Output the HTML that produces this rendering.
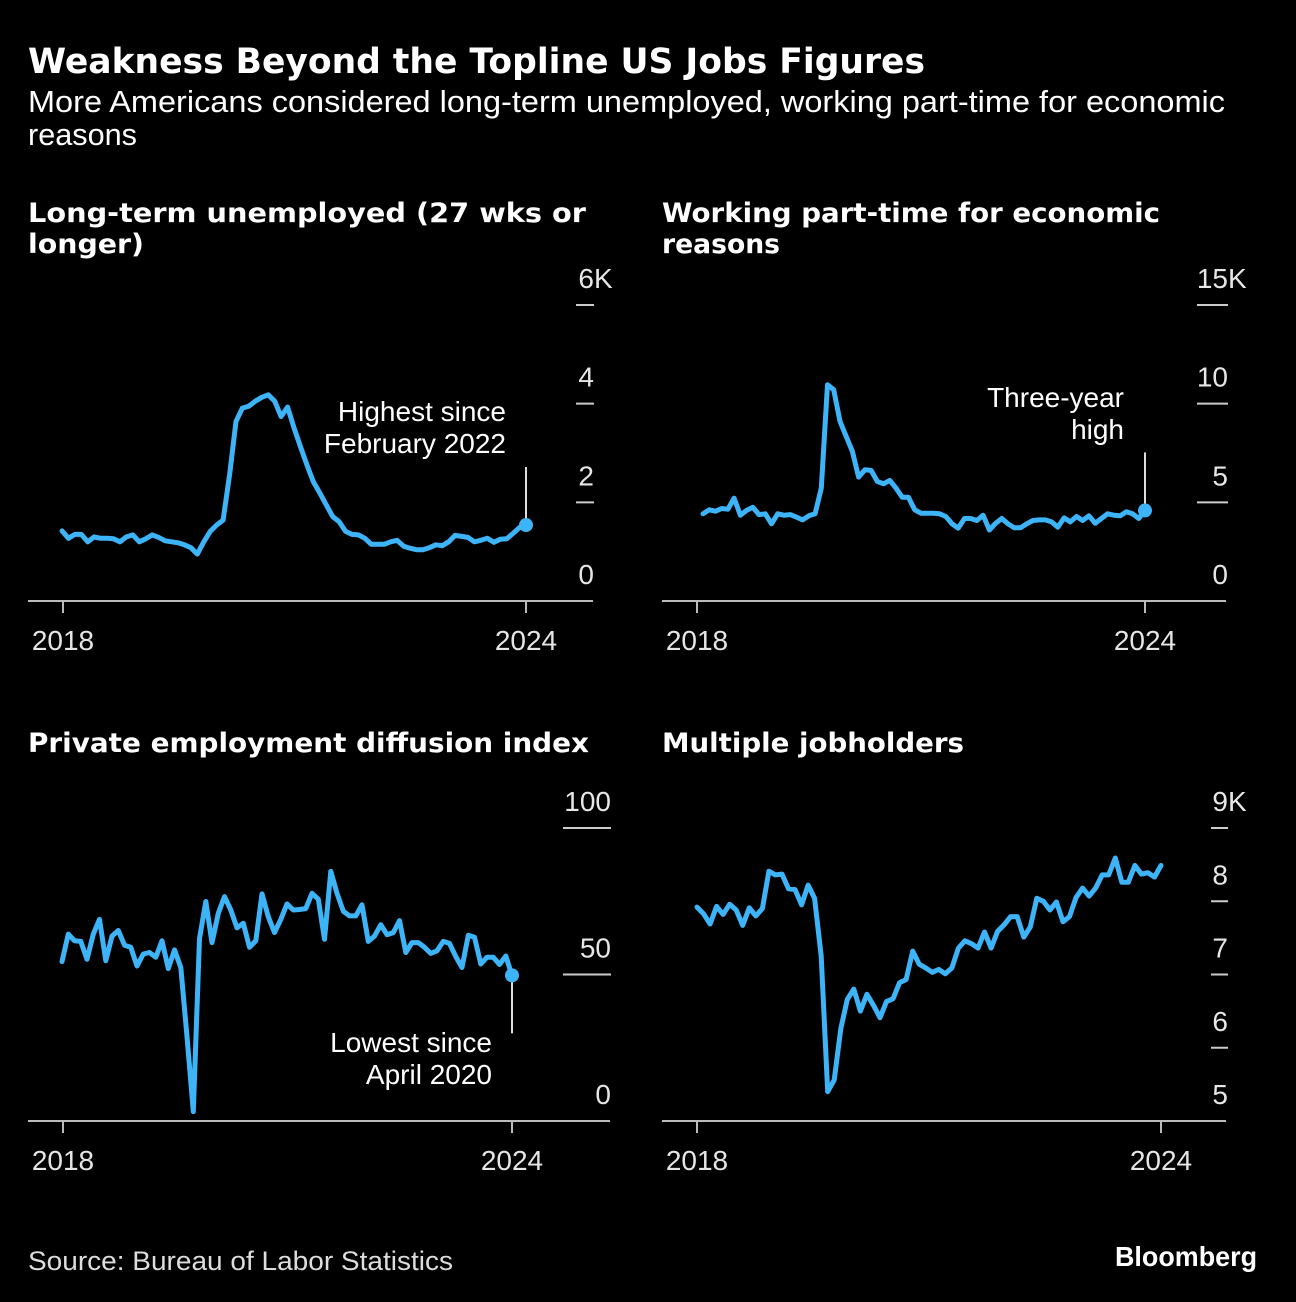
<!DOCTYPE html>
<html><head><meta charset="utf-8"><style>
html,body{margin:0;padding:0;background:#000;}
svg{display:block;font-family:"Liberation Sans","DejaVu Sans",sans-serif;}
.t{fill:#fff}
.tick{fill:#e6e6e6;font-size:28px}
</style></head><body>
<svg id="c" width="1296" height="1302" viewBox="0 0 1296 1302">
<rect width="1296" height="1302" fill="#000"/>
<text class="t" x="28" y="73" font-size="35" font-weight="bold" font-family="DejaVu Sans, sans-serif" textLength="897" lengthAdjust="spacingAndGlyphs">Weakness Beyond the Topline US Jobs Figures</text>
<text class="t" x="28" y="112" font-size="31" textLength="1197" lengthAdjust="spacingAndGlyphs">More Americans considered long-term unemployed, working part-time for economic</text>
<text class="t" x="28" y="145" font-size="31" textLength="109" lengthAdjust="spacingAndGlyphs">reasons</text>
<text class="t" x="28" y="222" font-size="27" font-weight="bold" font-family="DejaVu Sans, sans-serif" textLength="558" lengthAdjust="spacingAndGlyphs">Long-term unemployed (27 wks or</text>
<text class="t" x="28" y="253" font-size="27" font-weight="bold" font-family="DejaVu Sans, sans-serif" textLength="116" lengthAdjust="spacingAndGlyphs">longer)</text>
<text class="t" x="662" y="222" font-size="27" font-weight="bold" font-family="DejaVu Sans, sans-serif" textLength="498" lengthAdjust="spacingAndGlyphs">Working part-time for economic</text>
<text class="t" x="662" y="253" font-size="27" font-weight="bold" font-family="DejaVu Sans, sans-serif" textLength="118" lengthAdjust="spacingAndGlyphs">reasons</text>
<text class="t" x="28" y="752" font-size="27" font-weight="bold" font-family="DejaVu Sans, sans-serif" textLength="561" lengthAdjust="spacingAndGlyphs">Private employment diffusion index</text>
<text class="t" x="662" y="752" font-size="27" font-weight="bold" font-family="DejaVu Sans, sans-serif" textLength="302" lengthAdjust="spacingAndGlyphs">Multiple jobholders</text>
<text x="28" y="1270" font-size="27" fill="#ddd" textLength="425" lengthAdjust="spacingAndGlyphs">Source: Bureau of Labor Statistics</text>
<text class="t" x="1115" y="1266" font-size="28" font-weight="bold" textLength="142" lengthAdjust="spacingAndGlyphs">Bloomberg</text>
<g id="plots"></g>
</svg>
<script>
const p1Values=[1.42,1.27,1.35,1.35,1.20,1.30,1.27,1.27,1.26,1.20,1.30,1.34,1.20,1.26,1.34,1.29,1.22,1.20,1.18,1.14,1.08,0.95,1.20,1.41,1.54,1.64,2.56,3.64,3.91,3.95,4.05,4.13,4.18,4.05,3.74,3.93,3.51,3.13,2.76,2.42,2.19,1.95,1.71,1.61,1.41,1.35,1.34,1.27,1.15,1.15,1.15,1.20,1.23,1.11,1.07,1.04,1.04,1.08,1.14,1.12,1.20,1.33,1.31,1.29,1.20,1.23,1.27,1.19,1.25,1.26,1.37,1.49,1.54];
const p1Ticks=[0,2,4,6];
const p1TickLabels=["0","2","4","6K"];
const p2Values=[4.42,4.62,4.55,4.69,4.65,5.21,4.35,4.59,4.75,4.38,4.42,3.91,4.42,4.35,4.38,4.25,4.11,4.32,4.42,5.72,10.96,10.71,9.10,8.34,7.58,6.28,6.65,6.62,6.06,5.94,6.11,5.72,5.26,5.26,4.62,4.45,4.45,4.45,4.42,4.28,3.91,3.69,4.18,4.18,4.08,4.35,3.60,3.94,4.18,3.91,3.71,3.71,3.91,4.08,4.11,4.11,4.01,3.74,4.21,4.01,4.28,4.08,4.32,3.94,4.18,4.42,4.35,4.32,4.52,4.42,4.18,4.59];
const p2Ticks=[0,5,10,15];
const p2TickLabels=["0","5","10","15K"];
const p3Values=[54.4,63.8,61.5,61.3,55.2,63.8,68.8,54.7,63.1,65.0,60.0,59.3,52.9,57.0,57.5,55.9,61.5,52.0,58.4,52.4,28.8,3.2,62.3,74.9,60.9,70.9,76.6,72.0,65.9,67.5,59.3,61.5,77.5,69.7,64.3,68.8,74.1,72.0,72.2,72.5,77.7,75.7,62.0,85.2,77.7,71.6,70.0,70.0,73.8,61.3,63.1,67.0,63.6,64.3,68.4,57.5,60.9,60.9,59.3,57.2,58.1,61.3,60.6,56.1,52.4,63.4,62.7,53.6,55.9,55.9,53.4,56.3,49.7];
const p3Ticks=[0,50,100];
const p3TickLabels=["0","50","100"];
const p4Values=[7.92,7.83,7.69,7.93,7.82,7.96,7.88,7.67,7.91,7.80,7.90,8.41,8.36,8.37,8.17,8.16,7.95,8.22,8.04,7.25,5.40,5.56,6.26,6.66,6.80,6.50,6.73,6.58,6.41,6.63,6.67,6.89,6.93,7.32,7.14,7.09,7.03,7.07,7.01,7.09,7.36,7.46,7.42,7.36,7.58,7.36,7.59,7.68,7.79,7.79,7.51,7.65,8.04,8.00,7.88,7.99,7.72,7.79,8.05,8.18,8.07,8.18,8.36,8.36,8.59,8.26,8.26,8.49,8.37,8.39,8.33,8.49];
const p4Ticks=[5,6,7,8,9];
const p4TickLabels=["5","6","7","8","9K"];
const xLabels=["2018","2024"];

const NS="http://www.w3.org/2000/svg";
const root=document.getElementById('plots');
function mk(tag,attrs,parent,text){const e=document.createElementNS(NS,tag);for(const k in attrs)e.setAttribute(k,attrs[k]);if(text!==undefined)e.textContent=text;(parent||root).appendChild(e);return e;}
function linScale(d0,d1,r0,r1){return v=>r0+(v-d0)/(d1-d0)*(r1-r0);}

function panel(cfg){
  const g=mk('g',{});
  
  
  const y=linScale(cfg.yMin,cfg.yMax,cfg.yBase,cfg.yTop);
  const x=linScale(0,cfg.values.length-1,cfg.x0,cfg.x1);
  const bl=mk('line',{x1:cfg.axL,x2:cfg.axR,y1:cfg.yBase,y2:cfg.yBase,stroke:'#bbb','stroke-width':2},g);
  
  
  cfg.yearX.forEach((yx,i)=>{
    const tk=mk('line',{x1:yx,x2:yx,y1:cfg.yBase,y2:cfg.yBase+12,stroke:'#bbb','stroke-width':2},g);
    
    
    const tl=mk('text',{x:yx,y:cfg.yBase+49,'text-anchor':'middle',class:'tick'},g,xLabels[i]);
    
    
  });
  cfg.ticks.forEach((t,i)=>{
    const ty=y(t);
    if(t!==cfg.yMin){
      const ln=mk('line',{x1:cfg.tL,x2:cfg.tR,y1:ty,y2:ty,stroke:'#ccc','stroke-width':2},g);
      
      
    }
    const lab=cfg.tickLabels[i];
    const hasK=lab.endsWith('K');
    const tx=mk('text',{x:cfg.tR,y:ty-17,'text-anchor':'end',class:'tick'},g,hasK?lab.slice(0,-1):lab);
    
    
    if(hasK){const kk=mk('text',{x:cfg.tR,y:ty-17,class:'tick'},g,'K');
      
      }
  });
  const pts=cfg.values.map((v,i)=>x(i).toFixed(1)+','+y(v).toFixed(1)).join(' ');
  const pl=mk('polyline',{points:pts,fill:'none',stroke:'#3eb4f8','stroke-width':5,'stroke-linejoin':'round','stroke-linecap':'round'},g);
  
  
  if(!cfg.dot) return;
  const n=cfg.values.length-1;
  const ex=x(n),ey=y(cfg.values[n]);
  const ld=mk('line',{x1:ex,x2:ex,y1:ey+cfg.leadFrom,y2:ey+cfg.leadTo,stroke:'#ddd','stroke-width':2},g);
  
  
  const dot=mk('circle',{cx:ex,cy:ey,r:7,fill:'#3eb4f8'},g);
  
  
  cfg.note.forEach((s,i)=>{
    const nt=mk('text',{x:cfg.noteX,y:cfg.noteY+i*32,'text-anchor':'end',fill:'#fff','font-size':28},g,s);
    
    
  });
}

panel({name:'panel-long-term-unemployed',dot:true,values:p1Values,ticks:p1Ticks,tickLabels:p1TickLabels,yMin:0,yMax:6,yBase:601,yTop:305,x0:62,x1:526,axL:28,axR:593,yearX:[63,526],tL:576,tR:594,leadFrom:-58,leadTo:0,note:['Highest since','February 2022'],noteX:506,noteY:421});
panel({name:'panel-part-time-economic',dot:true,values:p2Values,ticks:p2Ticks,tickLabels:p2TickLabels,yMin:0,yMax:15,yBase:601,yTop:305,x0:703,x1:1145,axL:662,axR:1226,yearX:[697,1145],tL:1197,tR:1228,leadFrom:-58,leadTo:0,note:['Three-year','high'],noteX:1124,noteY:407});
panel({name:'panel-diffusion-index',dot:true,values:p3Values,ticks:p3Ticks,tickLabels:p3TickLabels,yMin:0,yMax:100,yBase:1121,yTop:828,x0:62,x1:512,axL:28,axR:610,yearX:[63,512],tL:563,tR:611,leadFrom:0,leadTo:58,note:['Lowest since','April 2020'],noteX:492,noteY:1052});
panel({name:'panel-multiple-jobholders',dot:false,values:p4Values,ticks:p4Ticks,tickLabels:p4TickLabels,yMin:5,yMax:9,yBase:1121,yTop:828,x0:697,x1:1161,axL:662,axR:1226,yearX:[697,1161],tL:1211,tR:1228,leadFrom:0,leadTo:0,note:[],noteX:0,noteY:0});
</script>
</body></html>
